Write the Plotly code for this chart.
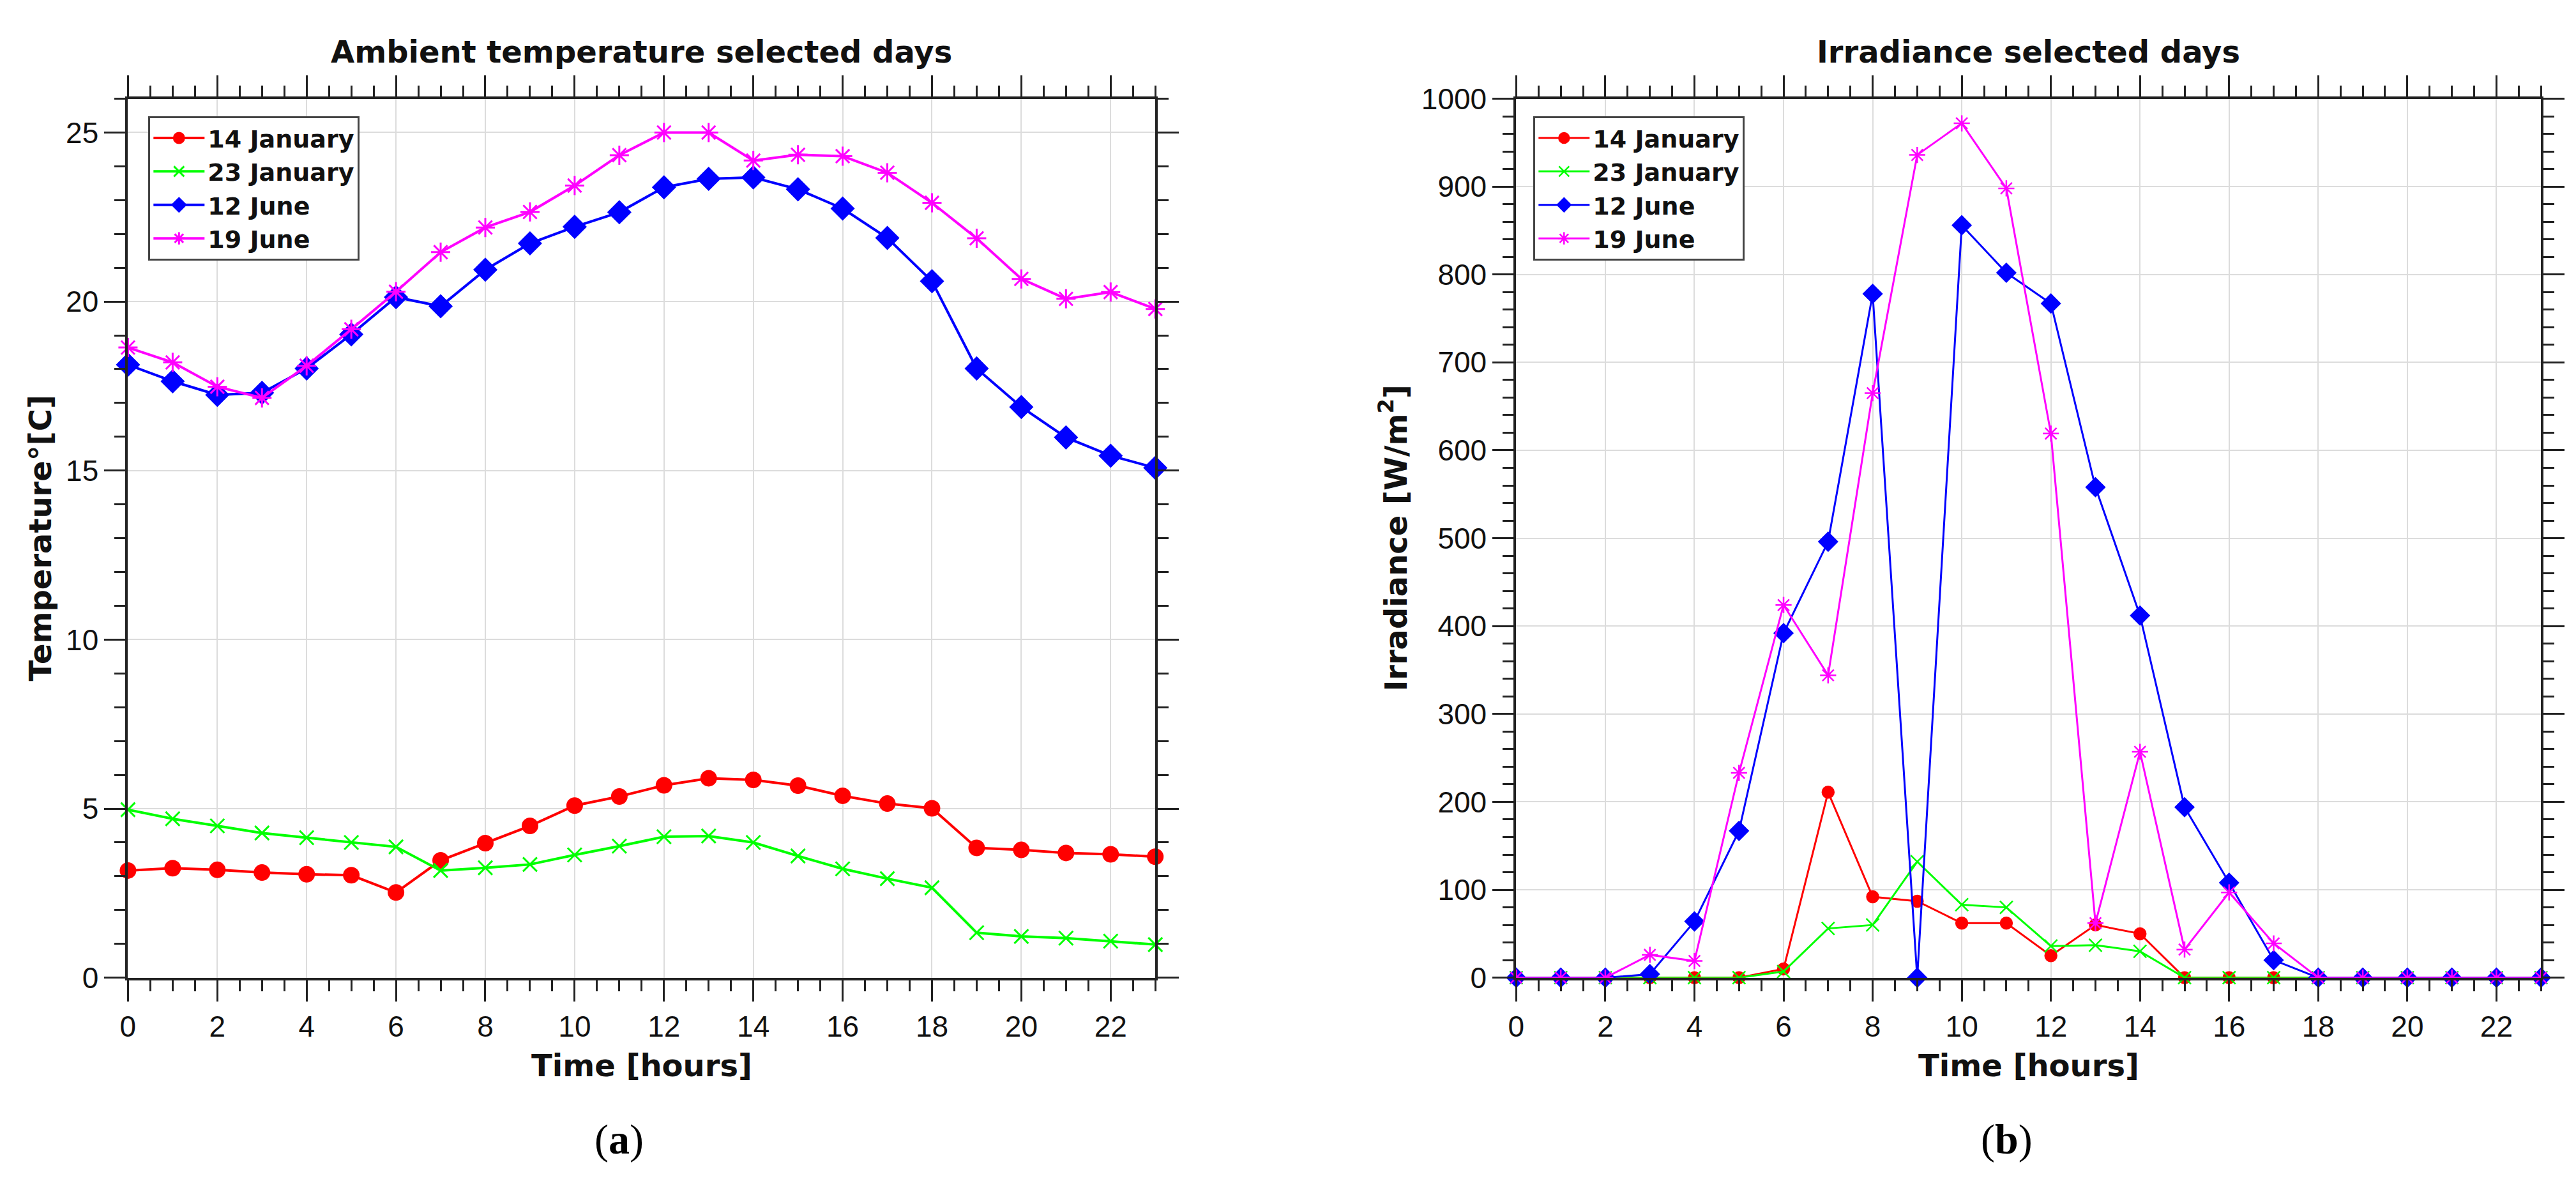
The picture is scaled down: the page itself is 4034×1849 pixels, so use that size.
import plotly.graph_objects as go

# heures de la journée
hours = list(range(24))
series_names = ["14 January", "23 January", "12 June", "19 June"]

# température ambiante [°C]
temp_jan14 = [3.17, 3.24, 3.19, 3.11, 3.06, 3.03, 2.52, 3.47, 3.98, 4.49, 5.09, 5.36,
              5.69, 5.90, 5.85, 5.68, 5.38, 5.15, 5.01, 3.84, 3.78, 3.69, 3.65, 3.58]
temp_jan23 = [4.97, 4.70, 4.49, 4.28, 4.14, 4.00, 3.87, 3.17, 3.25, 3.35, 3.63, 3.89,
              4.17, 4.19, 4.00, 3.60, 3.22, 2.93, 2.66, 1.33, 1.22, 1.17, 1.08, 0.98]
temp_jun12 = [18.13, 17.64, 17.24, 17.30, 18.02, 19.03, 20.13, 19.86, 20.94, 21.72, 22.21, 22.64,
              23.38, 23.63, 23.67, 23.32, 22.75, 21.88, 20.60, 18.02, 16.88, 15.98, 15.44, 15.08]
temp_jun19 = [18.64, 18.20, 17.48, 17.15, 18.10, 19.18, 20.29, 21.46, 22.19, 22.65, 23.43, 24.33,
              25.00, 25.00, 24.17, 24.34, 24.30, 23.81, 22.92, 21.87, 20.67, 20.08, 20.28, 19.78]

# irradiance [W/m2]
irr_jan14 = [0, 0, 0, 0, 0, 0, 10, 211, 92, 87, 62, 62,
             25, 60, 50, 0, 0, 0, 0, 0, 0, 0, 0, 0]
irr_jan23 = [0, 0, 0, 0, 0, 0, 7, 56, 60, 132, 83, 80,
             36, 37, 30, 0, 0, 0, 0, 0, 0, 0, 0, 0]
irr_jun12 = [0, 0, 0, 4, 64, 167, 392, 496, 778, 0, 856, 802,
             767, 558, 412, 194, 108, 20, 0, 0, 0, 0, 0, 0]
irr_jun19 = [0, 0, 0, 26, 19, 233, 424, 344, 665, 936, 972, 898,
             619, 62, 257, 32, 97, 39, 0, 0, 0, 0, 0, 0]

W, H = 4034, 1849
colors = ["#ff0000", "#00ff00", "#0000ff", "#ff00ff"]
symbols = ["circle", "x-thin-open", "diamond", "asterisk-open"]

BOLD = "DejaVu Sans"
TICKS = "Liberation Sans, Arial"


def px(x):
    return x / W


def py(y):
    return 1 - y / H


fig = go.Figure()

left_data = [temp_jan14, temp_jan23, temp_jun12, temp_jun19]
right_data = [irr_jan14, irr_jan23, irr_jun12, irr_jun19]
left_sizes = [23, 22, 26, 25]
right_sizes = [18, 20, 22, 21]

for i, name in enumerate(series_names):
    fig.add_trace(go.Scatter(
        x=hours, y=left_data[i], name=name, mode="lines+markers",
        line=dict(color=colors[i], width=4),
        marker=dict(symbol=symbols[i], size=left_sizes[i], color=colors[i],
                    line=dict(color=colors[i], width=3)),
        cliponaxis=False, xaxis="x", yaxis="y", legend="legend",
    ))

for i, name in enumerate(series_names):
    fig.add_trace(go.Scatter(
        x=hours, y=right_data[i], name=name, mode="lines+markers",
        line=dict(color=colors[i], width=3),
        marker=dict(symbol=symbols[i], size=right_sizes[i], color=colors[i],
                    line=dict(color=colors[i], width=2.5)),
        cliponaxis=False, xaxis="x2", yaxis="y2", legend="legend2",
    ))

axis_common = dict(
    showline=True, linecolor="#222222", linewidth=4, mirror="ticks",
    ticks="outside", ticklen=33, tickwidth=3, tickcolor="#222222",
    showgrid=True, gridcolor="#dcdcdc", gridwidth=2, zeroline=False,
    tickfont=dict(family=TICKS, size=46, color="#111111"),
)
x_common = dict(axis_common, range=[0, 23], dtick=2, tick0=0,
                minor=dict(dtick=0.5, ticklen=17, tickwidth=3, tickcolor="#222222", showgrid=False))

legend_style = dict(xanchor="left", yanchor="top",
                    bgcolor="white", bordercolor="#444444", borderwidth=3,
                    font=dict(family=BOLD, size=38, color="#111111", weight="bold"),
                    itemsizing="trace", itemwidth=80,
                    entrywidth=300, entrywidthmode="pixels")

fig.update_layout(
    width=W, height=H,
    paper_bgcolor="white", plot_bgcolor="white",
    margin=dict(l=0, r=0, t=0, b=0),
    showlegend=True,
    xaxis=dict(x_common, domain=[px(180), px(1794)], anchor="y"),
    yaxis=dict(axis_common, domain=[py(1540), py(124)], range=[0, 26], dtick=5, anchor="x",
               minor=dict(dtick=1, ticklen=17, tickwidth=3, tickcolor="#222222", showgrid=False)),
    xaxis2=dict(x_common, domain=[px(2361), px(3971)], anchor="y2"),
    yaxis2=dict(axis_common, domain=[py(1540), py(124)], range=[0, 1000], dtick=100, anchor="x2",
                minor=dict(dtick=20, ticklen=17, tickwidth=3, tickcolor="#222222", showgrid=False)),
    legend=dict(legend_style, x=px(212), y=py(152)),
    legend2=dict(legend_style, x=px(2388), y=py(152)),
)

title_font = dict(family=BOLD, size=48, color="#111111", weight="bold")
annotations = [
    dict(text="Ambient temperature selected days", x=px(987), y=py(48)),
    dict(text="Irradiance selected days", x=px(3166), y=py(48)),
    dict(text="Time [hours]", x=px(987), y=py(1681)),
    dict(text="Time [hours]", x=px(3166), y=py(1681)),
    dict(text="Temperature°[C]", x=px(42), y=py(832), textangle=-90),
    dict(text="Irradiance [W/m<sup>2</sup>]", x=px(2168), y=py(832), textangle=-90),
]
for a in annotations:
    fig.add_annotation(xref="paper", yref="paper", showarrow=False,
                       xanchor="center", yanchor="middle", font=title_font, **a)

label_font = dict(family="Liberation Serif, Times New Roman", size=66, color="black")
fig.add_annotation(text="(<b>a</b>)", x=px(952), y=py(1801), xref="paper", yref="paper",
                   showarrow=False, xanchor="center", yanchor="middle", font=label_font)
fig.add_annotation(text="(<b>b</b>)", x=px(3132), y=py(1801), xref="paper", yref="paper",
                   showarrow=False, xanchor="center", yanchor="middle", font=label_font)

fig.write_html("out.html")
